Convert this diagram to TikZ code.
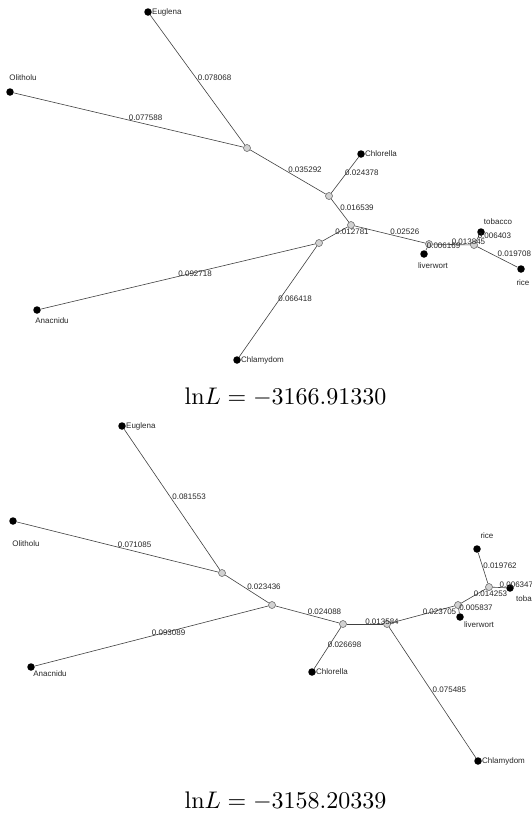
\documentclass[tikz,border=0pt]{standalone}
\usepackage{fontspec}
\newfontfamily\lab{Liberation Sans}
\begin{document}
\begin{tikzpicture}[x=1pt,y=-1pt,
  leaf/.style={circle,fill=black,inner sep=0pt,minimum size=7.5pt},
  innode/.style={circle,fill=gray!35,draw=gray!70!black,line width=0.5pt,inner sep=0pt,minimum size=7pt},
  edge/.style={draw=black!75,line width=0.6pt},
  elab/.style={font=\lab\fontsize{8}{9}\selectfont,inner sep=0pt,anchor=base west,text=black!85},
  nlab/.style={font=\lab\fontsize{8}{9}\selectfont,inner sep=0pt,text=black!85},
  title/.style={inner sep=0pt}]
\useasboundingbox (0,0) rectangle (531,820);
% ---------- top tree ----------
\node[innode] (tA) at (247,148) {};
\node[innode] (tB) at (329,196) {};
\node[innode] (tC) at (351,225) {};
\node[innode] (tD) at (319,243) {};
\node[innode] (tE) at (429,244) {};
\node[innode] (tF) at (474,245) {};
\node[leaf] (tEug) at (148,12) {};
\node[leaf] (tOli) at (10,92) {};
\node[leaf] (tChl) at (361,154) {};
\node[leaf] (tAna) at (37,310) {};
\node[leaf] (tChy) at (237,360) {};
\node[leaf] (tLiv) at (424,254) {};
\node[leaf] (tTob) at (481,232) {};
\node[leaf] (tRic) at (521,269) {};
\path[edge] (tEug) -- node[midway,elab] {0.078068} (tA);
\path[edge] (tOli) -- node[midway,elab] {0.077588} (tA);
\path[edge] (tA) -- node[midway,elab] {0.035292} (tB);
\path[edge] (tB) -- node[midway,elab] {0.024378} (tChl);
\path[edge] (tB) -- node[midway,elab] {0.016539} (tC);
\path[edge] (tC) -- node[midway,elab] {0.012781} (tD);
\path[edge] (tD) -- node[midway,elab] {0.092718} (tAna);
\path[edge] (tD) -- node[midway,elab] {0.066418} (tChy);
\path[edge] (tC) -- node[midway,elab] {0.02526} (tE);
\path[edge] (tE) -- node[midway,elab] {0.006169} (tLiv);
\path[edge] (tE) -- node[midway,elab] {0.013845} (tF);
\path[edge] (tF) -- node[midway,elab] {0.006403} (tTob);
\path[edge] (tF) -- node[midway,elab] {0.019708} (tRic);
\node[nlab,anchor=west] (tEugL) at (152,12) {Euglena};
\node[nlab] (tOliL) at (23,78) {Olitholu};
\node[nlab,anchor=west] (tChlL) at (365,154) {Chlorella};
\node[nlab] (tAnaL) at (52,321) {Anacnidu};
\node[nlab,anchor=west] (tChyL) at (241,360) {Chlamydom};
\node[nlab] (tLivL) at (433,266) {liverwort};
\node[nlab] (tTobL) at (498,222) {tobacco};
\node[nlab] (tRicL) at (523,283) {rice};
\node[title] (t1) at (285.5,397) {\scalebox{2.4}{$\mathrm{ln}L = -3166.91330$}};
% ---------- bottom tree ----------
\node[innode] (bA) at (222,573) {};
\node[innode] (bB) at (272,605) {};
\node[innode] (bC) at (343,624) {};
\node[innode] (bD) at (387,624) {};
\node[innode] (bE) at (458,605) {};
\node[innode] (bF) at (489,587) {};
\node[leaf] (bEug) at (122,426) {};
\node[leaf] (bOli) at (13,521) {};
\node[leaf] (bAna) at (31,667) {};
\node[leaf] (bChl) at (312,672) {};
\node[leaf] (bChy) at (478,761) {};
\node[leaf] (bLiv) at (460,617) {};
\node[leaf] (bRic) at (477,549) {};
\node[leaf] (bTob) at (510,588) {};
\path[edge] (bEug) -- node[midway,elab] {0.081553} (bA);
\path[edge] (bOli) -- node[midway,elab] {0.071085} (bA);
\path[edge] (bA) -- node[midway,elab] {0.023436} (bB);
\path[edge] (bB) -- node[midway,elab] {0.093089} (bAna);
\path[edge] (bB) -- node[midway,elab] {0.024088} (bC);
\path[edge] (bC) -- node[midway,elab] {0.026698} (bChl);
\path[edge] (bC) -- node[midway,elab] {0.013584} (bD);
\path[edge] (bD) -- node[midway,elab] {0.075485} (bChy);
\path[edge] (bD) -- node[midway,elab] {0.023705} (bE);
\path[edge] (bE) -- node[midway,elab] {0.005837} (bLiv);
\path[edge] (bE) -- node[midway,elab] {0.014253} (bF);
\path[edge] (bF) -- node[midway,elab] {0.019762} (bRic);
\path[edge] (bF) -- node[midway,elab] {0.006347} (bTob);
\node[nlab,anchor=west] (bEugL) at (126,426) {Euglena};
\node[nlab] (bOliL) at (26,544) {Olitholu};
\node[nlab] (bAnaL) at (50,674) {Anacnidu};
\node[nlab,anchor=west] (bChlL) at (316,672) {Chlorella};
\node[nlab,anchor=west] (bChyL) at (482,761) {Chlamydom};
\node[nlab] (bLivL) at (479,625) {liverwort};
\node[nlab] (bRicL) at (487,536) {rice};
\node[nlab,anchor=west] (bTobL) at (516,599) {tobacco};
\node[title] (t2) at (285.5,801) {\scalebox{2.4}{$\mathrm{ln}L = -3158.20339$}};
\end{tikzpicture}
\end{document}
